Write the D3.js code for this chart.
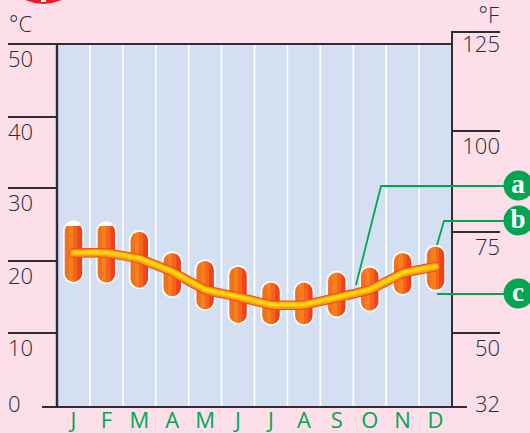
<!DOCTYPE html>
<html><head><meta charset="utf-8">
<script src="https://cdn.jsdelivr.net/npm/d3@7/dist/d3.min.js"></script>
<style>html,body{margin:0;padding:0;background:#fddfe9;overflow:hidden}svg{display:block}text{font-family:"Open Sans",sans-serif}</style>
</head><body><svg id="c" width="530" height="433"></svg>
<script>
const months=["J","F","M","A","M","J","J","A","S","O","N","D"];
const barHigh=[25.3,25.2,24.0,21.1,20.0,19.2,17.0,17.0,18.4,19.1,21.1,22.0];
const barLow=[17.1,17.0,16.3,15.1,13.3,11.4,11.2,11.2,12.3,13.1,15.4,16.0];
const lineMean=[21.1,21.1,20.3,18.5,16.0,15.0,13.9,13.9,14.9,16.0,18.3,19.2];
const cTicks=[0,10,20,30,40,50];
const fTicks=[32,50,75,100,125];
const notes=[["a",186],["b",221],["c",294]];
const bg="#fddfe9",plotBg="#d4e0f1",ink="#2f2d33",textC="#2b2a2f",green="#00a651";

const svg=d3.select("#c");
const x=d3.scaleBand().domain(d3.range(12)).range([57,452]);
const yC=d3.scaleLinear().domain(cTicks).range([407,333,261,188,117,44]);
const yF=d3.scaleLinear().domain(fTicks).range([407,333,232,131,32]);
const cx=i=>x(i)+x.bandwidth()/2;

const defs=svg.append("defs");
const grad=defs.append("linearGradient").attr("id","bar");
[[0,"#f4711c"],[.25,"#f4711c"],[.25,"#f97f1c"],[.5,"#f97f1c"],[.5,"#f4641c"],[.72,"#f4641c"],[.72,"#ef4a1e"],[1,"#ef3b1f"]]
 .forEach(([o,c])=>grad.append("stop").attr("offset",o).attr("stop-color",c));
defs.append("clipPath").attr("id","barClip").append("rect").attr("x",57).attr("y",226).attr("width",395).attr("height",181);

svg.append("rect").attr("width",530).attr("height",433).attr("fill",bg);
svg.append("circle").attr("cx",43.5).attr("cy",-38).attr("r",42).attr("fill","#ed1c24");
svg.append("rect").attr("x",41).attr("y",0).attr("width",5).attr("height",2).attr("fill","#fff");

svg.append("rect").attr("x",57).attr("y",44).attr("width",395).attr("height",363).attr("fill",plotBg);
svg.selectAll(".g").data(d3.range(1,12)).join("line")
 .attr("x1",i=>x(i)).attr("x2",i=>x(i)).attr("y1",44).attr("y2",407)
 .attr("stroke","#fff").attr("stroke-width",1.6);

// bars
const bw=17.5;
svg.selectAll(".bo").data(months).join("rect")
 .attr("x",(d,i)=>cx(i)-bw/2-1.7).attr("width",bw+3.4)
 .attr("y",(d,i)=>yC(barHigh[i])-1.7).attr("height",(d,i)=>yC(barLow[i])-yC(barHigh[i])+3.4)
 .attr("rx",10.45).attr("fill","#fff");
svg.append("g").attr("clip-path","url(#barClip)").selectAll("rect").data(months).join("rect")
 .attr("x",(d,i)=>cx(i)-bw/2).attr("width",bw)
 .attr("y",(d,i)=>yC(barHigh[i])).attr("height",(d,i)=>yC(barLow[i])-yC(barHigh[i]))
 .attr("rx",8.75).attr("fill","url(#bar)");

// mean line
const line=d3.line().x((d,i)=>cx(i)).y(d=>yC(d)).curve(d3.curveCardinal.tension(0.75));
[[9.5,"#ea4a1f",0],[7.5,"#f8941d",0],[5,"#fdb813",-.3],[2.8,"#ffd900",-.6]].forEach(([w,c,dy])=>
 svg.append("path").attr("d",line(lineMean)).attr("transform",`translate(0,${dy})`).attr("fill","none").attr("stroke",c)
  .attr("stroke-width",w).attr("stroke-linecap","round").attr("stroke-linejoin","round"));

// frame & axes
const ln=(a,b,c,d,w=2)=>svg.append("line").attr("x1",a).attr("y1",b).attr("x2",c).attr("y2",d).attr("stroke",ink).attr("stroke-width",w);
ln(8,44,452,44);
ln(57,44,57,407,2.4);
ln(452,32,452,407,2);
ln(451,32,500,32);
ln(42,407,467,407);
cTicks.filter(d=>d>0&&d<50).forEach(d=>ln(8,yC(d),57,yC(d)));
fTicks.filter(d=>d>32&&d<125).forEach(d=>ln(452,yF(d),500,yF(d)));

// tick labels
const txt=(s,a,b,an,fs,f,w=300)=>svg.append("text").attr("x",a).attr("y",b).attr("text-anchor",an).attr("font-size",fs).attr("font-weight",w).attr("fill",f||textC).text(s);
cTicks.forEach(d=>txt(d,8,d===0?412:yC(d)+22.5,"start",22));
fTicks.forEach(d=>txt(d,500,d===32?412:yF(d)+(d===125?20:22.5),"end",22));
txt("°C",9,32,"start",22);
txt("°F",499,23,"end",22);
months.forEach((m,i)=>txt(m,cx(i),428,"middle",22,green,400));

// annotations
const path=(pts)=>svg.append("path").attr("d",d3.line()(pts)).attr("fill","none").attr("stroke",green).attr("stroke-width",1.8);
path([[505,186],[381,186],[356,285]]);
path([[505,221],[444,221],[437,245]]);
path([[505,294],[437,294]]);
notes.forEach(([s,y])=>{
 svg.append("circle").attr("cx",518.5).attr("cy",y-0.5).attr("r",15).attr("fill",green);
 svg.append("text").attr("x",518).attr("y",y+6.5).attr("text-anchor","middle").attr("font-size",27).attr("font-weight",700)
  .style("font-family","'Liberation Serif',serif").attr("fill","#fff").text(s);
});
</script></body></html>
